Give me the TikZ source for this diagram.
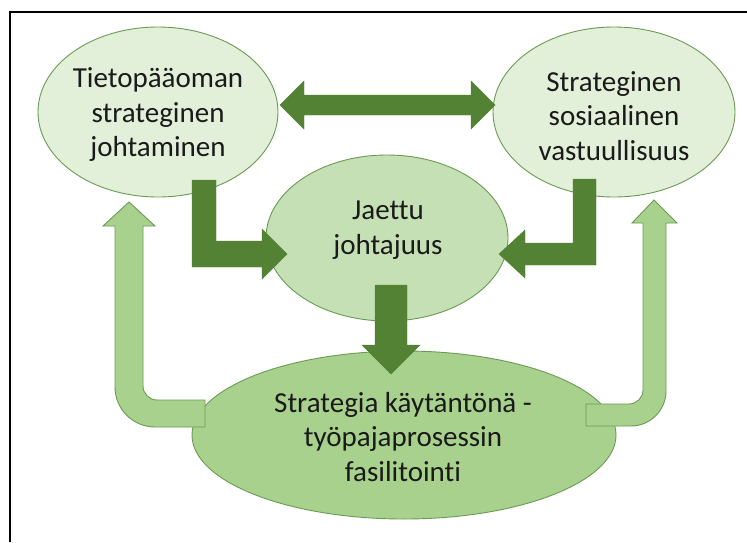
\documentclass[tikz,border=0pt]{standalone}
\usepackage{fontspec}
\setmainfont{Carlito}[RawFeature={-liga;-clig;-dlig}]
\usetikzlibrary{shapes.geometric}
\definecolor{paleGreen}{HTML}{E2EFD9}
\definecolor{midGreen}{HTML}{C5E0B4}
\definecolor{softGreen}{HTML}{A9D18E}
\definecolor{lineGreen}{HTML}{6B9A52}
\definecolor{darkGreen}{HTML}{548235}
\definecolor{inkGray}{HTML}{1A1A1A}
\begin{document}
\begin{tikzpicture}[x=1pt,y=-1pt,
  bubble/.style={ellipse, draw=lineGreen, line width=0.9pt, inner sep=0pt},
  caption/.style={align=center, text=inkGray, font=\fontsize{29}{34.5}\selectfont},
  boldarrow/.style={fill=darkGreen, draw=darkGreen, line width=0.4pt, line join=miter},
  backarrow/.style={fill=softGreen, draw=lineGreen, line width=0.9pt, line join=miter}]
\useasboundingbox (0,0) rectangle (747,542);
\fill[white] (0,0) rectangle (747,542);

% frame edges
\draw[line width=1.4pt, black] (10,542) -- (10,12) -- (747,12);

% ellipses
\node[bubble, fill=paleGreen, minimum width=240pt, minimum height=170pt] (tieto) at (158,112) {};
\node[bubble, fill=paleGreen, minimum width=242pt, minimum height=170pt] (sosiaal) at (614,112) {};
\node[bubble, fill=midGreen, minimum width=242pt, minimum height=166pt] (jaettu) at (387,238) {};
\node[bubble, fill=softGreen, minimum width=424pt, minimum height=168pt] (kaytanto) at (404,435) {};

% texts
\node[caption] (tietoT) at (158,115) {Tietopääoman\\strateginen\\johtaminen};
\node[caption] (sosiaalT) at (614,116) {Strateginen\\sosiaalinen\\vastuullisuus};
\node[caption] (jaettuT) at (388,230) {Jaettu\\johtajuus};
\node[caption] (kaytantoT) at (403,437) {Strategia käytäntönä -\\työpajaprosessin\\fasilitointi};

% two-way arrow between the upper ellipses
\draw[boldarrow] (280,105) -- (304,81) -- (304,95) -- (471,95) -- (471,81) -- (495,105)
  -- (471,129) -- (471,115) -- (304,115) -- (304,129) -- cycle;

% elbow arrows into the centre ellipse
\draw[boldarrow] (192,180) -- (216,180) -- (216,241) -- (262,241) -- (262,229) -- (287,254)
  -- (262,279) -- (262,267) -- (192,267) -- cycle;
\draw[boldarrow] (596,179) -- (573,179) -- (573,243) -- (525,243) -- (525,230) -- (499,254)
  -- (525,278) -- (525,265) -- (596,265) -- cycle;

% downward arrow
\draw[boldarrow] (375,285) -- (407,285) -- (407,345) -- (420,345) -- (391,374) -- (362,345)
  -- (375,345) -- cycle;

% feedback arrows from the lower ellipse
\draw[backarrow] (205,400) -- (157,400) .. controls (149.3,400) and (143,393.7) .. (143,386)
  -- (143,226) -- (155,226) -- (129,202) -- (103,226) -- (115,226) -- (115,387)
  .. controls (115,409.1) and (132.9,427) .. (155,427) -- (205,427) -- cycle;
\draw[backarrow] (586,404) -- (629,404) .. controls (636.7,404) and (643,397.7) .. (643,390)
  -- (643,223) -- (632,223) -- (654,200) -- (677,223) -- (666,223) -- (666,391)
  .. controls (666,410.3) and (650.3,426) .. (631,426) -- (586,426) -- cycle;
\end{tikzpicture}
\end{document}
